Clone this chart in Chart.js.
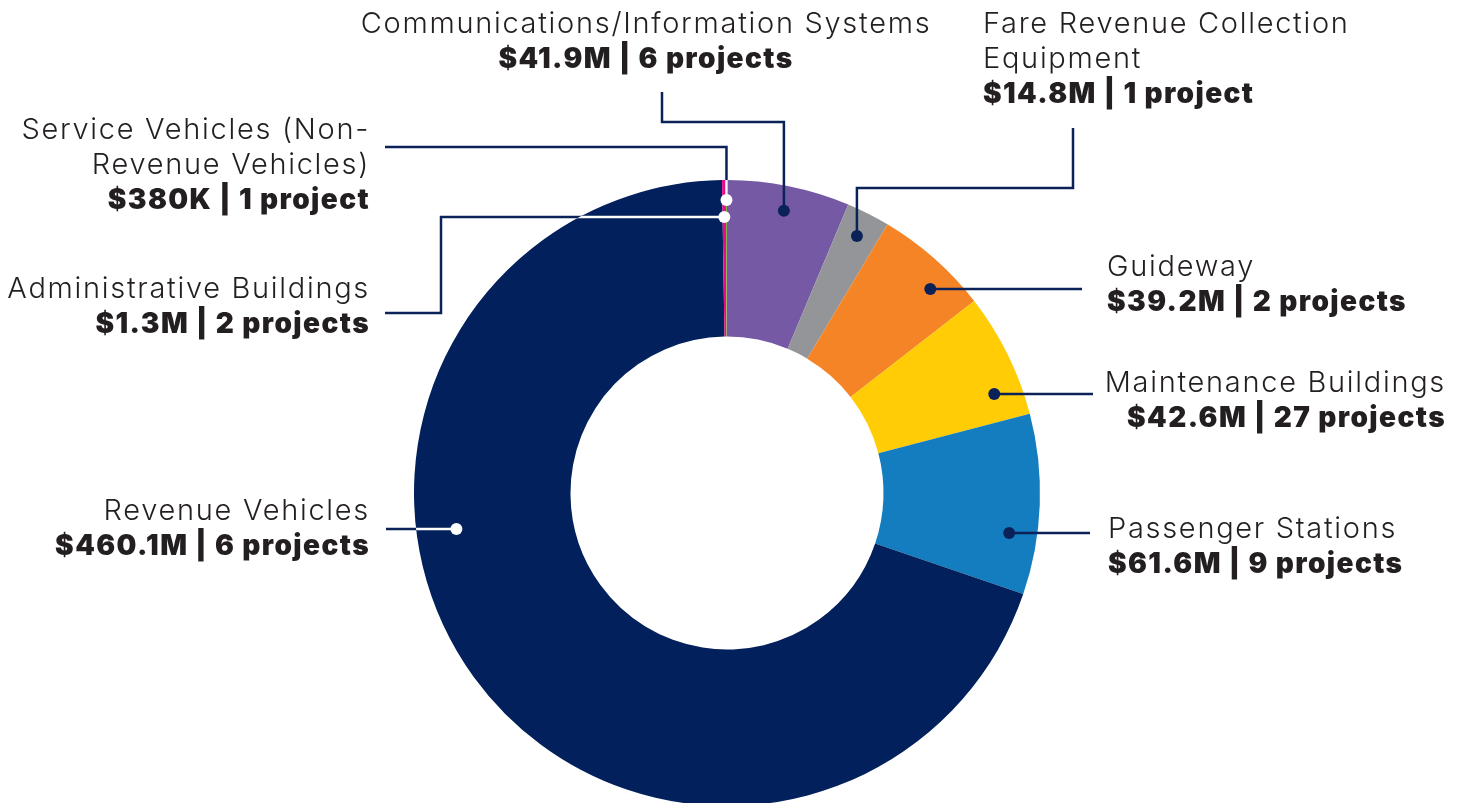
<!DOCTYPE html>
<html>
<head>
<meta charset="utf-8">
<script src="https://cdn.jsdelivr.net/npm/chart.js@4.4.1/dist/chart.umd.min.js"></script>
<style>
  html, body { margin: 0; padding: 0; background: #fff; }
  #wrap { width: 1466px; height: 803px; position: relative; }
</style>
</head>
<body>
<div id="wrap"><canvas id="myChart"></canvas></div>
<script>
// categories, clockwise from 12 o'clock (line breaks as in the original labels)
var categories = [
    ['Communications/Information Systems'],
    ['Fare Revenue Collection', 'Equipment'],
    ['Guideway'],
    ['Maintenance Buildings'],
    ['Passenger Stations'],
    ['Revenue Vehicles'],
    ['Administrative Buildings'],
    ['Service Vehicles (Non-', 'Revenue Vehicles)']
];
// funding, millions of dollars
var funding = [41.9, 14.8, 39.2, 42.6, 61.6, 460.1, 1.3, 0.38];
// number of projects
var projects = [6, 1, 2, 27, 9, 6, 2, 1];

var colors = ['#7559a4', '#949599', '#f58426', '#ffcc05', '#147dbf', '#02205b', '#ec0a8c', '#7cb342'];
var navy = '#0b2259';
var textColor = '#231f20';

// where each label sits and how its leader line runs
var labelLayout = [
    {align: 'center', x: 646, y: 23, route: 'vhv', turnY: 122, endX: 662, endY: 92, dot: 'mid', r: 288},
    {align: 'left', x: 983, y: 23, route: 'vhv', turnY: 188, endX: 1073, endY: 128, dot: 'mid', r: 288},
    {align: 'left', x: 1107, y: 266, route: 'h', endX: 1082, endY: 289, dot: 'row', r: 288, side: 1},
    {align: 'right', x: 1446, y: 382, route: 'h', endX: 1093, endY: 394, dot: 'row', r: 285, side: 1},
    {align: 'left', x: 1108, y: 528, route: 'h', endX: 1090, endY: 533, dot: 'row', r: 285, side: 1},
    {align: 'right', x: 370, y: 510, route: 'h', endX: 386, endY: 529, dot: 'row', r: 273, side: -1, white: true},
    {align: 'right', x: 370, y: 288, route: 'hvh', turnX: 441, endX: 385, endY: 313, dot: 'mid', r: 276, white: true},
    {align: 'right', x: 370, y: 129, route: 'vhv', turnY: 147, endX: 385, endY: 147, dot: 'mid', r: 293, white: true}
];

function moneyText(v) {
    if (v < 1) return '$' + Math.round(v * 1000) + 'K';
    return '$' + v.toFixed(1) + 'M';
}

function projectText(n) {
    return n + (n === 1 ? ' project' : ' projects');
}

// find the dot for a slice
function dotPoint(arc, lay) {
    var cx = arc.x, cy = arc.y;
    var a;
    if (lay.dot === 'row') {
        var dy = lay.endY - cy;
        var dx = Math.sqrt(Math.max(lay.r * lay.r - dy * dy, 0)) * lay.side;
        a = Math.atan2(dy, dx);
        if (a < -Math.PI / 2) a += Math.PI * 2;
        var pad = 0.01;
        a = Math.min(Math.max(a, arc.startAngle + pad), arc.endAngle - pad);
    } else {
        a = (arc.startAngle + arc.endAngle) / 2;
    }
    return {x: cx + lay.r * Math.cos(a), y: cy + lay.r * Math.sin(a)};
}

function routePoints(p, lay) {
    var pts = [[p.x, p.y]];
    if (lay.route === 'vhv') {
        pts.push([p.x, lay.turnY], [lay.endX, lay.turnY], [lay.endX, lay.endY]);
    } else if (lay.route === 'hvh') {
        pts.push([lay.turnX, p.y], [lay.turnX, lay.endY], [lay.endX, lay.endY]);
    } else {
        if (Math.abs(p.y - lay.endY) > 0.5) {
            var mx = (p.x + lay.endX) / 2;
            pts.push([mx, p.y], [mx, lay.endY]);
        }
        pts.push([lay.endX, lay.endY]);
    }
    return pts;
}

function strokePts(ctx, pts) {
    ctx.beginPath();
    ctx.moveTo(pts[0][0], pts[0][1]);
    for (var k = 1; k < pts.length; k++) ctx.lineTo(pts[k][0], pts[k][1]);
    ctx.stroke();
}

var calloutPlugin = {
    id: 'callouts',
    afterDatasetsDraw: function (chart) {
        var ctx = chart.ctx;
        var arcs = chart.getDatasetMeta(0).data;
        ctx.save();
        ctx.lineWidth = 2.5;
        ctx.lineJoin = 'miter';
        for (var i = 0; i < arcs.length; i++) {
            var arc = arcs[i];
            var lay = labelLayout[i];
            var p = dotPoint(arc, lay);
            var pts = routePoints(p, lay);

            // leader line
            ctx.strokeStyle = navy;
            strokePts(ctx, pts);
            if (lay.white) {
                // the part that crosses the ring is drawn white
                ctx.save();
                ctx.beginPath();
                ctx.arc(arc.x, arc.y, arc.outerRadius, 0, Math.PI * 2);
                ctx.clip();
                ctx.strokeStyle = '#ffffff';
                strokePts(ctx, pts);
                ctx.restore();
            }

            // dot
            ctx.beginPath();
            ctx.arc(p.x, p.y, 6, 0, Math.PI * 2);
            ctx.fillStyle = lay.white ? '#ffffff' : navy;
            ctx.fill();

            // text
            ctx.fillStyle = textColor;
            ctx.textAlign = lay.align;
            ctx.textBaseline = 'alphabetic';
            var lines = categories[i];
            var y = lay.y;
            ctx.font = '300 29px Inter';
            ctx.letterSpacing = '1.7px';
            for (var j = 0; j < lines.length; j++) {
                ctx.fillText(lines[j], lay.x, y + 10);
                y += 35;
            }
            ctx.font = '900 28px Inter';
            ctx.letterSpacing = '1.4px';
            ctx.fillText(moneyText(funding[i]) + ' | ' + projectText(projects[i]), lay.x, y + 10);
        }
        ctx.restore();
    }
};

var ctx = document.getElementById('myChart').getContext('2d');
var chart = new Chart(ctx, {
    type: 'doughnut',
    data: {
        labels: categories,
        datasets: [{
            data: funding,
            backgroundColor: colors,
            borderWidth: 0,
            radius: 313,
            cutout: '50%'
        }]
    },
    options: {
        responsive: true,
        maintainAspectRatio: false,
        animation: false,
        layout: {
            padding: {left: 414, right: 426, top: 183, bottom: 0}
        },
        plugins: {
            legend: {display: false},
            tooltip: {enabled: false}
        }
    },
    plugins: [calloutPlugin]
});
</script>
</body>
</html>
